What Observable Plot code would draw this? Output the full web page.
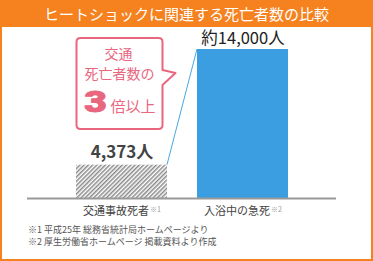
<!DOCTYPE html>
<html><head><meta charset="utf-8">
<script src="https://cdn.jsdelivr.net/npm/d3@7"></script>
<script src="https://cdn.jsdelivr.net/npm/@observablehq/plot@0.6"></script>
<style>
body{margin:0;background:#fff;font-family:"Noto Sans CJK JP","Noto Sans",sans-serif;}
#wrap{position:relative;width:373px;height:261px;overflow:hidden;background:#fff;}
#frame{position:absolute;left:0;top:0;width:373px;height:261px;box-sizing:border-box;border:2px solid #f5821f;pointer-events:none;z-index:3;}
#title{position:relative;z-index:2;height:27px;background:#f5821f;color:#fff;font-size:15px;line-height:27px;text-align:center;}
#chart{position:absolute;left:0;top:19px;z-index:1;}
#chart svg{display:block;}
#notes{position:absolute;left:28px;top:224px;font-size:9px;color:#555;line-height:11.5px;white-space:nowrap;}
</style></head><body>
<div id="wrap"><div id="title"></div><div id="chart"></div><div id="notes"></div><div id="frame"></div></div>
<script>
const titleText = "ヒートショックに関連する死亡者数の比較";
const categories = ["交通事故死者", "入浴中の急死"];
const noteMarks = ["※1", "※2"];
const deaths = [4373, 14000];
const valueLabels = ["4,373人", "約14,000人"];
const calloutLines = ["交通", "死亡者数の"];
const calloutBig = "3";
const calloutTail = "倍以上";
const footnotes = ["※1 平成25年 総務省統計局ホームページより", "※2 厚生労働省ホームページ 掲載資料より作成"];
const yFloor = 1600;

const data = categories.map((c, i) => ({cat: c, value: deaths[i], label: valueLabels[i], note: noteMarks[i]}));
const PINK = "#e8677f", BLUE = "#3a9ee1";
const SVGNS = "http://www.w3.org/2000/svg";

function bandInfo(scales) {
  const s = scales.x;
  let bw = 0;
  if (typeof s.bandwidth === "function") bw = s.bandwidth();
  else if (scales.scales && scales.scales.x) bw = scales.scales.x.bandwidth;
  return [s, bw];
}

const defsMark = () => {
  const g = document.createElementNS(SVGNS, "g");
  g.innerHTML = `<defs><pattern id="hatch" width="3" height="3" patternUnits="userSpaceOnUse" patternTransform="rotate(45)"><rect width="3" height="3" fill="#fff"/><rect width="1.5" height="3" fill="#8a8a8a"/></pattern></defs>`;
  return g;
};

const linkMark = (index, scales) => {
  const [x, bw] = bandInfo(scales);
  const y = scales.y;
  const g = document.createElementNS(SVGNS, "g");
  const line = document.createElementNS(SVGNS, "line");
  line.setAttribute("x1", x(categories[0]) + bw);
  line.setAttribute("y1", y(deaths[0]));
  line.setAttribute("x2", x(categories[1]));
  line.setAttribute("y2", y(deaths[1]));
  line.setAttribute("stroke", "#4aa6e4");
  line.setAttribute("stroke-width", 1);
  g.appendChild(line);
  return g;
};

const calloutMark = (index, scales) => {
  const [x, bw] = bandInfo(scales);
  const L = x(categories[0]) + 0.5, R = L + 86, T = 19, B = 110, r = 4;
  const cx = (L + R) / 2;
  const g = document.createElementNS(SVGNS, "g");
  const p = document.createElementNS(SVGNS, "path");
  p.setAttribute("d", `M${L + r},${T}H${R - r}Q${R},${T} ${R},${T + r}V51L${R + 13},54L${R},66V${B - r}Q${R},${B} ${R - r},${B}H${L + r}Q${L},${B} ${L},${B - r}V${T + r}Q${L},${T} ${L + r},${T}Z`);
  p.setAttribute("fill", "#fff");
  p.setAttribute("stroke", PINK);
  p.setAttribute("stroke-width", 2);
  p.setAttribute("stroke-linejoin", "round");
  g.appendChild(p);
  const mk = (txt, tx, ty, size, weight, anchor, opts = {}) => {
    const t = document.createElementNS(SVGNS, "text");
    t.textContent = txt;
    if (opts.scale) {
      t.setAttribute("transform", `translate(${tx},${ty}) scale(${opts.scale[0]},${opts.scale[1]})`);
    } else {
      t.setAttribute("x", tx); t.setAttribute("y", ty);
    }
    t.setAttribute("fill", PINK);
    t.setAttribute("font-size", size);
    t.setAttribute("font-weight", weight);
    t.setAttribute("text-anchor", anchor);
    t.setAttribute("font-family", opts.family || '"Noto Sans CJK JP", sans-serif');
    if (opts.sw) { t.setAttribute("stroke", PINK); t.setAttribute("stroke-width", opts.sw); t.setAttribute("stroke-linejoin", "round"); }
    g.appendChild(t);
  };
  mk(calloutLines[0], cx - 1, 40, 14, 400, "middle");
  mk(calloutLines[1], cx, 60, 14, 400, "middle");
  mk(calloutBig, L + 19, 93, 30, 900, "middle", {family: "Roboto, sans-serif", scale: [1.3, 1], sw: 1});
  mk(calloutTail, L + 34, 93, 15, 400, "start");
  return g;
};

const plot = Plot.plot({
  width: 373,
  height: 200,
  marginLeft: 27,
  marginRight: 37,
  marginTop: 30,
  marginBottom: 21,
  style: {fontFamily: '"Noto Sans CJK JP", sans-serif', background: "transparent"},
  x: {domain: categories, paddingInner: 0.25, paddingOuter: 0.4, axis: null},
  y: {domain: [yFloor, 14000], axis: null},
  color: {domain: categories, range: ["url(#hatch)", BLUE]},
  marks: [
    defsMark,
    Plot.barY(data, {x: "cat", y: "value", fill: "cat", clip: true}),
    Plot.ruleY([yFloor], {stroke: "#999", strokeWidth: 2}),
    linkMark,
    Plot.text(data, {filter: (d, i) => i === 0, x: "cat", y: "value", text: "label", dy: -13, fontSize: 17, fontWeight: 700, fill: "#444"}),
    Plot.text(data, {filter: (d, i) => i === 1, x: "cat", y: "value", text: "label", dy: -11, fontSize: 16.5, fontWeight: 400, fill: "#222"}),
    Plot.text(data, {x: "cat", y: () => yFloor, text: "cat", dy: 13, fontSize: 11, fill: "#444"}),
    calloutMark
  ]
});
document.getElementById("chart").appendChild(plot);
document.getElementById("title").textContent = titleText;
document.getElementById("notes").innerHTML = footnotes.map(s => `<div>${s}</div>`).join("");

d3.select(plot).selectAll("text").each(function() {
  const i = categories.indexOf(this.textContent);
  if (i < 0) return;
  d3.select(this).append("tspan").attr("font-size", 7).attr("fill", "#999").attr("dy", -3).attr("dx", 1).text(noteMarks[i]);
});
</script>
</body></html>
